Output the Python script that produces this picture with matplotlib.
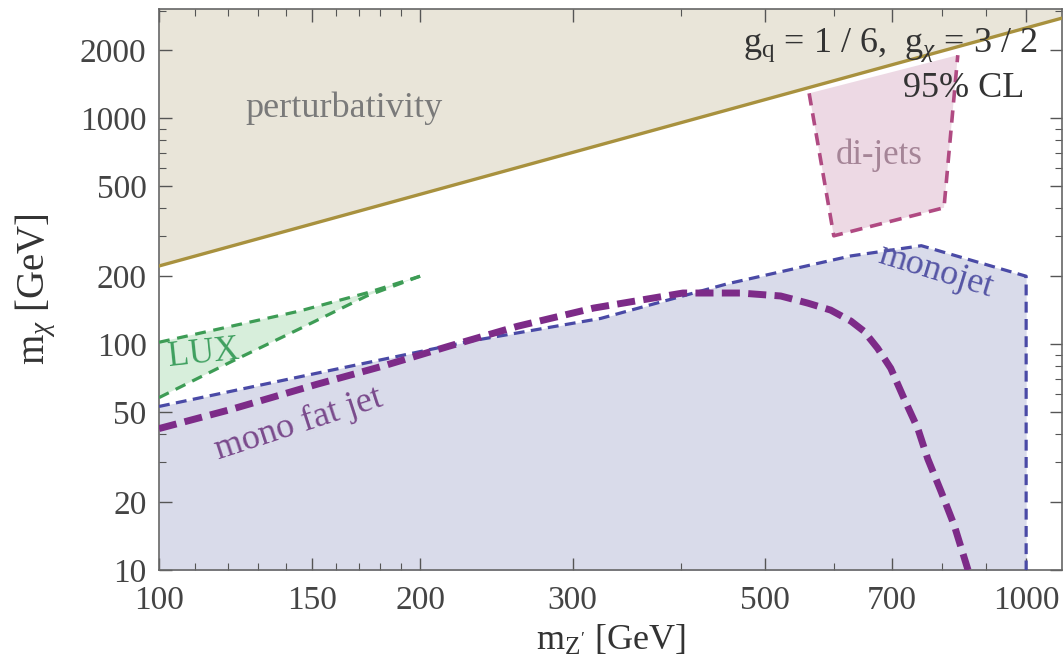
import matplotlib
matplotlib.use('Agg')
from matplotlib import pyplot as plt
from matplotlib.ticker import FixedLocator, NullFormatter
import numpy as np

# perturbativity bound
pert_mz = [100, 1100]
pert_mchi = [222, 2780]

# di-jets excluded region (corners)
dijet_mz = [562, 600, 804, 834]
dijet_mchi = [1291, 302, 402, 1905]

# monojet boundary
mono_mz = [100, 146, 228, 323, 452, 628, 757, 1000, 1000]
mono_mchi = [53, 72, 103, 130, 185, 246, 273, 200, 10]

# mono fat jet boundary
fat_mz = [100, 121, 152, 181, 216, 259, 317, 402, 468, 521, 560, 595, 628, 650, 674,
          698, 723, 750, 770, 798, 826, 857]
fat_mchi = [42.3, 51.4, 66.4, 79.9, 98, 120, 144.5, 168.5, 168.5, 163.5, 152, 141.6, 126.5, 114.2, 96,
            78.2, 57.5, 42.3, 31.1, 22.2, 15.8, 10]

# LUX wedge
lux_up_mz = [100, 145, 173.5, 200]
lux_up_mchi = [102, 140, 168.6, 200]
lux_lo_mz = [100, 121.4, 145, 173.5, 200]
lux_lo_mchi = [58, 84, 116.6, 163.4, 200]

xticks_major = [100, 150, 200, 300, 500, 700, 1000]
yticks_major = [10, 20, 50, 100, 200, 500, 1000, 2000]

plt.rcParams['font.family'] = ['Liberation Serif', 'DejaVu Serif']
plt.rcParams['mathtext.fontset'] = 'custom'
plt.rcParams['mathtext.rm'] = 'Liberation Serif'
plt.rcParams['mathtext.it'] = 'Liberation Serif:italic'

fig = plt.figure(figsize=(10.63, 6.67), dpi=100)
ax = fig.add_axes([0.1496, 0.1454, 0.8495, 0.8411])
ax.set_xscale('log')
ax.set_yscale('log')
ax.set_xlim(100, 1100)
ax.set_ylim(10, 3050)

# perturbativity
ax.fill_between(pert_mz, pert_mchi, 10000, color='#e9e5d9', lw=0, zorder=1)
ax.plot(pert_mz, pert_mchi, color='#a8913e', lw=2.4, zorder=6)

# monojet
ax.fill_between(mono_mz[:-1], 1, mono_mchi[:-1], color='#d9dbea', lw=0, zorder=1)
ax.plot(mono_mz, mono_mchi, color='#4a4aa6', lw=2.3, dashes=(3.4, 2.0), zorder=4)

# mono fat jet
ax.plot(fat_mz, fat_mchi, color='#7d2b88', lw=5, dashes=(2.6, 1.2), zorder=5)

# di-jets: top edge runs along the perturbativity line
dj_x = list(dijet_mz) + [dijet_mz[0]]
dj_y = list(dijet_mchi) + [dijet_mchi[0]]
ax.fill(dj_x, dj_y, color='#edd9e4', lw=0, zorder=2)
ax.plot(dijet_mz, dijet_mchi, color='#b04a82', lw=2.6, dashes=(3.4, 2.2), zorder=3)

# LUX
lux_x = lux_up_mz + lux_lo_mz[::-1]
lux_y = lux_up_mchi + lux_lo_mchi[::-1]
ax.fill(lux_x, lux_y, color='#d7eedb', lw=0, zorder=2)
ax.plot(lux_up_mz, lux_up_mchi, color='#3d9c55', lw=2.3, dashes=(3.4, 2.4), zorder=3)
ax.plot(lux_lo_mz, lux_lo_mchi, color='#3d9c55', lw=2.3, dashes=(3.4, 2.4), zorder=3)

# labels in the plot
ax.text(163.6, 1108, 'perturbativity', fontsize=26, color='#7a7a7a', ha='center', va='center', zorder=7)
ax.text(676, 685, 'di-jets', fontsize=25, color='#a58597', ha='center', va='center', zorder=7)
ax.text(787, 210, 'monojet', fontsize=26, color='#5555a5', ha='center', va='center', rotation=-17, zorder=7)
ax.text(145, 44.1, 'mono fat jet', fontsize=26, color='#7a4a8c', ha='center', va='center', rotation=18, zorder=7)
ax.text(112.7, 91, 'LUX', fontsize=25, color='#3fa060', ha='center', va='center', rotation=6, zorder=7)
ax.text(1030, 2110, r'g$_\mathrm{q}$ = 1 / 6,  g$_\chi$ = 3 / 2', fontsize=26, color='#333333',
        ha='right', va='center', zorder=8)
ax.text(995, 1359, '95% CL', fontsize=26, color='#333333', ha='right', va='center', zorder=8)

# axes styling
ax.xaxis.set_major_locator(FixedLocator(xticks_major))
ax.xaxis.set_minor_locator(FixedLocator([m for m in range(110, 200, 10) if m not in xticks_major]
                                        + [400, 600, 800, 900]))
ax.set_xticklabels([str(t) for t in xticks_major])
ax.xaxis.set_minor_formatter(NullFormatter())
ax.yaxis.set_major_locator(FixedLocator(yticks_major))
ymin = [30, 40, 60, 70, 80, 90, 300, 400, 600, 700, 800, 900, 3000]
ax.yaxis.set_minor_locator(FixedLocator(ymin))
ax.set_yticklabels([str(t) for t in yticks_major])
ax.yaxis.set_minor_formatter(NullFormatter())

ax.tick_params(which='both', direction='in', top=True, right=True, colors='#555555',
               labelcolor='#444444', labelsize=24)
ax.tick_params(which='major', length=9, width=1)
ax.tick_params(which='minor', length=5, width=0.8)
ax.tick_params(axis='x', pad=11)
ax.tick_params(axis='y', pad=9)
for s in ax.spines.values():
    s.set_color('#666666')
    s.set_linewidth(1.2)

ax.set_xlabel(r'm$_{\mathrm{Z}^{\prime}}$ [GeV]', fontsize=26, color='#333333', labelpad=6)
ax.set_ylabel(r'm$_\chi$ [GeV]', fontsize=28, color='#333333', labelpad=16)

fig.savefig('out.png', dpi=100)
